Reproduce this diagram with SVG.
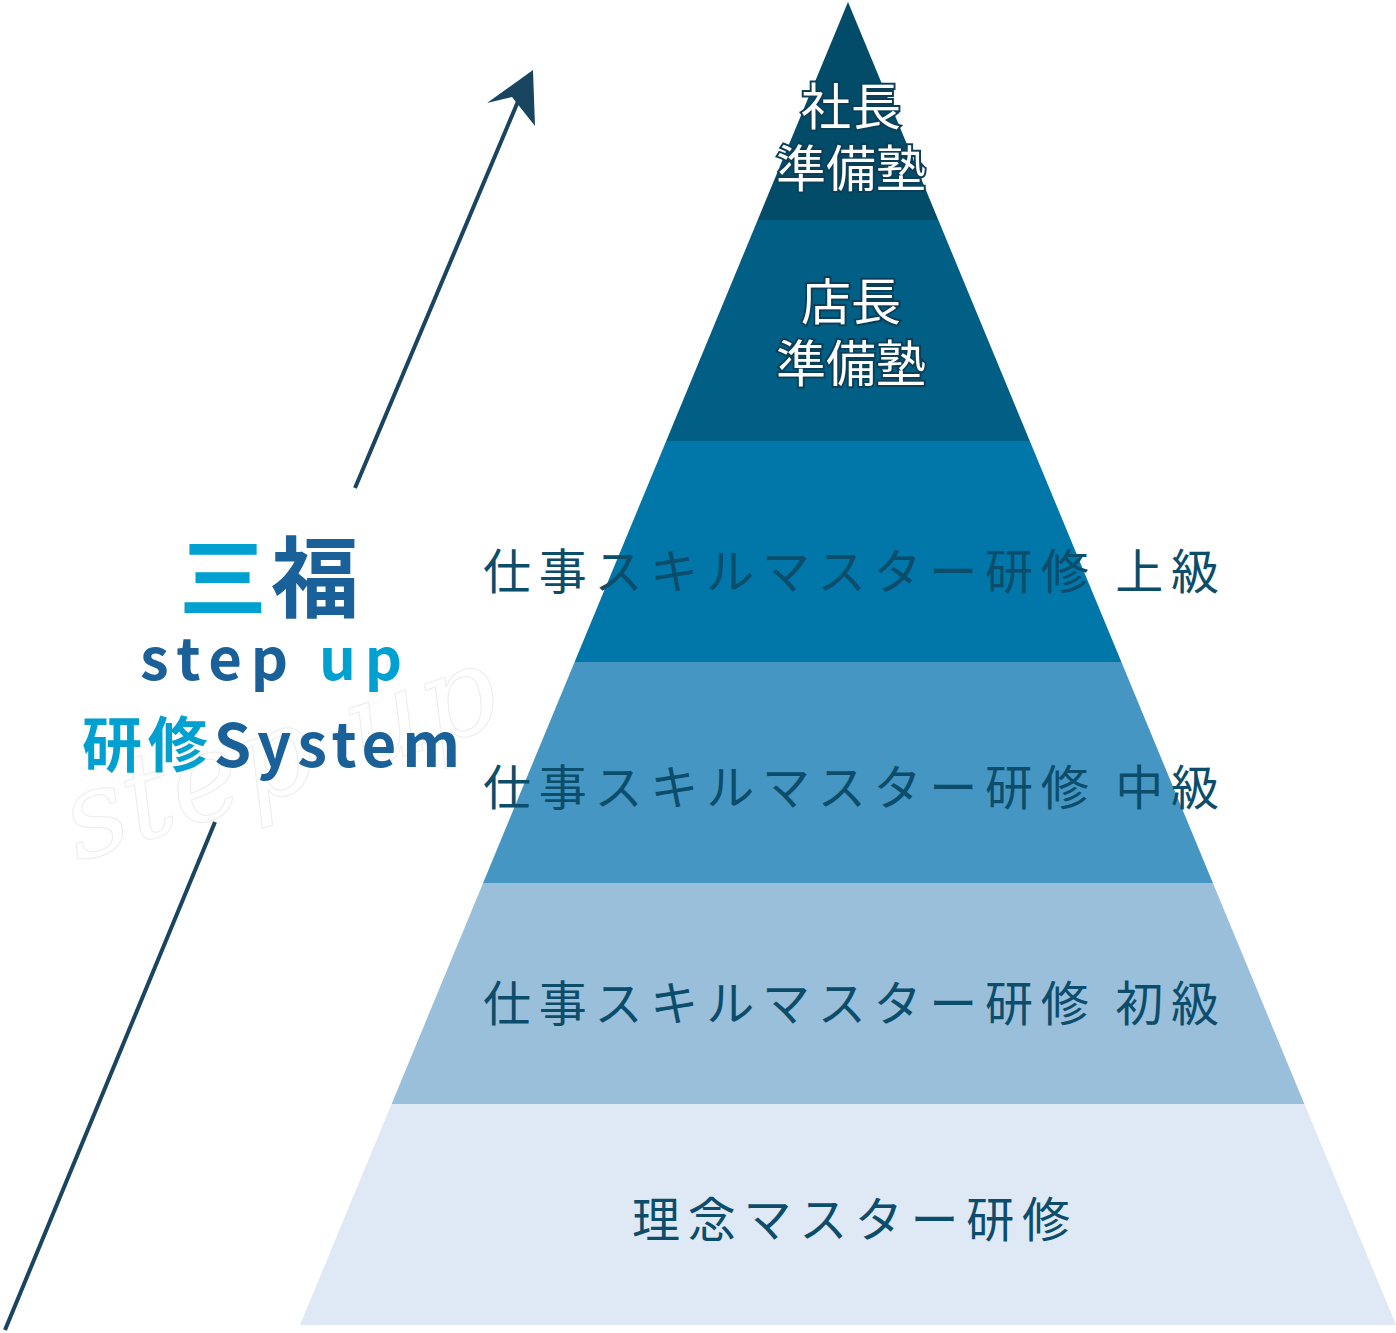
<svg xmlns="http://www.w3.org/2000/svg" width="1396" height="1333" viewBox="0 0 1396 1333">
<style>
.lb{font-family:"Noto Sans CJK JP","Noto Sans",sans-serif;font-size:48px;fill:#0b4d6b;text-anchor:middle}
.wt{font-family:"Noto Sans CJK JP",sans-serif;font-size:50px;fill:#fff;stroke:#0b3f58;stroke-width:4;paint-order:stroke;text-anchor:middle}
.lg{font-family:"Noto Sans CJK JP","Noto Sans",sans-serif;font-weight:bold;text-anchor:middle}
</style>
<g id="connectors" stroke="#1a4560" stroke-width="4" fill="none">
<line x1="5" y1="1330" x2="215" y2="822"/>
<line x1="355" y1="488" x2="522" y2="92"/>
<path d="M533,70 L487,103 L512,97 L535,126 Z" fill="#1a4560" stroke="none"/>
</g>
<g id="logo">
<text x="30" y="800" transform="rotate(-18 250 680)" font-family="'DejaVu Serif',serif" font-style="italic" font-size="120" fill="none" stroke="#ececec" stroke-width="1">step up</text>
<text class="lg" x="271" y="610" font-size="88" fill="#00a0d0" letter-spacing="4">三<tspan fill="#1a6199">福</tspan></text>
<text class="lg" x="271" y="680" font-size="58" fill="#1a6199" textLength="262">step <tspan fill="#00a0d0">up</tspan></text>
<text class="lg" x="271" y="767" font-size="60" fill="#1a6199" textLength="378"><tspan fill="#00a0d0">研修</tspan>System</text>
</g>
<g id="tier1"><polygon points="848,2 938.3,220 757.7,220" fill="#024c6a"/><text class="wt" x="851" y="125">社長</text><text class="wt" x="851" y="187">準備塾</text></g>
<g id="tier2"><polygon points="757.7,220 938.3,220 1029.8,441 666.2,441" fill="#015f86"/><text class="wt" x="851" y="320" stroke="none">店長</text><text class="wt" x="851" y="382" stroke="none">準備塾</text></g>
<g id="tier3"><polygon points="666.2,441 1029.8,441 1121.4,662 574.6,662" fill="#0176a8"/><text class="lb" x="851" y="589" textLength="736">仕事スキルマスター研修 上級</text></g>
<g id="tier4"><polygon points="574.6,662 1121.4,662 1212.9,883 483.1,883" fill="#4596c2"/><text class="lb" x="851" y="805" textLength="736">仕事スキルマスター研修 中級</text></g>
<g id="tier5"><polygon points="483.1,883 1212.9,883 1304.4,1104 391.6,1104" fill="#9abfdb"/><text class="lb" x="851" y="1021" textLength="736">仕事スキルマスター研修 初級</text></g>
<g id="tier6"><polygon points="391.6,1104 1304.4,1104 1396,1325 300,1325" fill="#dfe8f5"/><text class="lb" x="851" y="1237" textLength="438">理念マスター研修</text></g>
</svg>
